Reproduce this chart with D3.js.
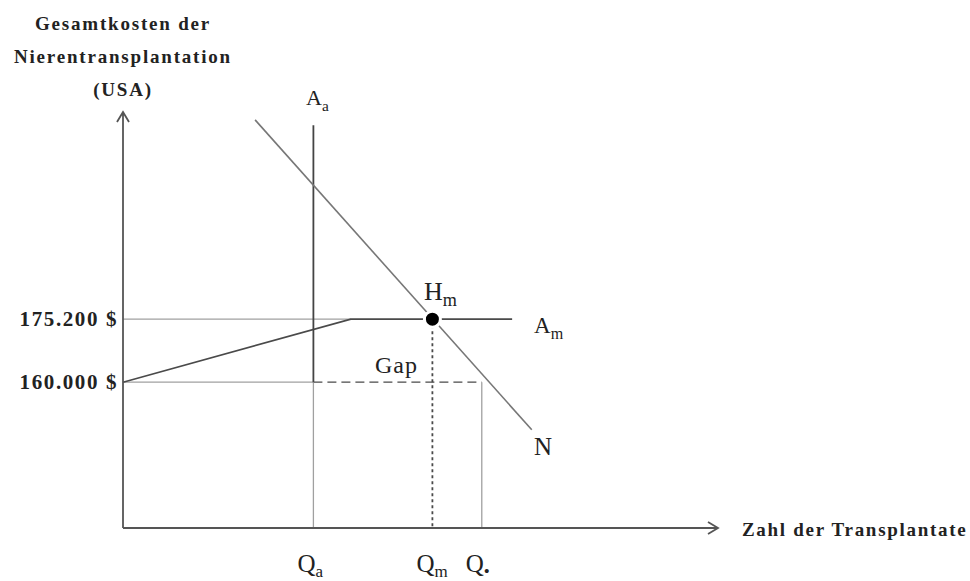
<!DOCTYPE html>
<html>
<head>
<meta charset="utf-8">
<script src="https://cdn.jsdelivr.net/npm/d3@7"></script>
<style>
  body { margin: 0; background: #fff; }
  text { font-family: "Liberation Serif", "DejaVu Serif", serif; fill: #222; }
</style>
</head>
<body>
<div id="chart"></div>
<script>
// cost levels (y) and quantities (x, arbitrary units)
var costTicks = [160000, 175200];
var quantities = [
  { name: "Q", sub: "a", q: 32 },
  { name: "Q", sub: "m", q: 52 },
  { name: "Q", sub: "•", q: 60.3 }
];
// supply with kink: rises from 160.000 $ to 175.200 $, then flat (A_m)
var supplyAm = [
  { q: 0, c: 160000 },
  { q: 38.3, c: 175200 },
  { q: 65.4, c: 175200 }
];
// demand N
var demandN = [
  { q: 22.2, c: 223300 },
  { q: 68.7, c: 148500 }
];
// vertical A_a at Q_a
var supplyAa = [
  { q: 32, c: 222000 },
  { q: 32, c: 160000 }
];
var equilibrium = { q: 52, c: 175200 };

var width = 970, height = 581;
var x0 = 123, x1 = 718, y0 = 528, y1 = 112;

var svg = d3.select("#chart")
  .append("svg")
  .attr("width", width)
  .attr("height", height);

var x = d3.scaleLinear().domain([0, 100]).range([x0, x1]);
var y = d3.scaleLinear().domain([124800, 225200]).range([y0, y1]);

var de = d3.formatLocale({ decimal: ",", thousands: ".", grouping: [3], currency: ["", " $"] });
var fmt = de.format("$,");

var line = d3.line()
  .x(function (d) { return x(d.q); })
  .y(function (d) { return y(d.c); });

var thin = "#a0a0a0", dark = "#4a4a4a";

// guide lines to the y axis
svg.append("line")
  .attr("x1", x(0)).attr("x2", x(38.3))
  .attr("y1", y(175200)).attr("y2", y(175200))
  .attr("stroke", thin).attr("stroke-width", 1.3);
svg.append("line")
  .attr("x1", x(0)).attr("x2", x(quantities[0].q))
  .attr("y1", y(160000)).attr("y2", y(160000))
  .attr("stroke", thin).attr("stroke-width", 1.3);

// Gap (dashed)
svg.append("line")
  .attr("x1", x(quantities[0].q)).attr("x2", x(quantities[2].q))
  .attr("y1", y(160000)).attr("y2", y(160000))
  .attr("stroke", dark).attr("stroke-width", 1.4)
  .attr("stroke-dasharray", "9,5");

// verticals down to x axis
svg.append("line")
  .attr("x1", x(quantities[0].q)).attr("x2", x(quantities[0].q))
  .attr("y1", y(160000)).attr("y2", y0)
  .attr("stroke", thin).attr("stroke-width", 1.3);
svg.append("line")
  .attr("x1", x(quantities[1].q)).attr("x2", x(quantities[1].q))
  .attr("y1", y(equilibrium.c)).attr("y2", y0)
  .attr("stroke", dark).attr("stroke-width", 1.8)
  .attr("stroke-dasharray", "3,3");
svg.append("line")
  .attr("x1", x(quantities[2].q)).attr("x2", x(quantities[2].q))
  .attr("y1", y(160000)).attr("y2", y0)
  .attr("stroke", thin).attr("stroke-width", 1.3);

// supply A_m
svg.append("path")
  .datum(supplyAm)
  .attr("fill", "none")
  .attr("stroke", dark)
  .attr("stroke-width", 1.6)
  .attr("d", line);

// A_a
svg.append("path")
  .datum(supplyAa)
  .attr("fill", "none")
  .attr("stroke", "#444")
  .attr("stroke-width", 1.8)
  .attr("d", line);

// demand N
svg.append("path")
  .datum(demandN)
  .attr("fill", "none")
  .attr("stroke", "#777")
  .attr("stroke-width", 1.6)
  .attr("d", line);

// axes with open arrow heads
svg.append("path")
  .attr("d", "M" + x0 + "," + y0 + "V" + y1 + "M" + (x0 - 6) + "," + (y1 + 10) + "L" + x0 + "," + y1 + "L" + (x0 + 6) + "," + (y1 + 10))
  .attr("fill", "none").attr("stroke", "#555").attr("stroke-width", 1.8);
svg.append("path")
  .attr("d", "M" + x0 + "," + y0 + "H" + x1 + "M" + (x1 - 10) + "," + (y0 - 6) + "L" + x1 + "," + y0 + "L" + (x1 - 10) + "," + (y0 + 6))
  .attr("fill", "none").attr("stroke", "#555").attr("stroke-width", 1.8);

// y tick labels
var yAxis = svg.append("g")
  .attr("transform", "translate(" + x0 + ",0)")
  .call(d3.axisLeft(y).tickValues(costTicks).tickSize(0).tickPadding(5).tickFormat(fmt));
yAxis.select(".domain").remove();
yAxis.selectAll("text")
  .style("font-family", "'Liberation Serif', serif")
  .style("font-size", "21px")
  .style("letter-spacing", "1.6px")
  .style("font-weight", "bold")
  .attr("fill", "#333");

// x labels
var ql = svg.selectAll(".ql")
  .data(quantities)
  .enter()
  .append("text")
  .attr("class", "ql")
  .attr("x", function (d) { return x(d.q) - 16; })
  .attr("y", 572)
  .style("font-size", "25px");
ql.append("tspan").text(function (d) { return d.name; });
ql.append("tspan").attr("dy", 5).style("font-size", "17px").text(function (d) { return d.sub; });

// equilibrium point
svg.append("circle")
  .attr("cx", x(equilibrium.q))
  .attr("cy", y(equilibrium.c))
  .attr("r", 8)
  .attr("fill", "#000")
  .attr("stroke", "#fff")
  .attr("stroke-width", 3);

function subLabel(tx, ty, main, sub, size) {
  var t = svg.append("text").attr("x", tx).attr("y", ty).style("font-size", size + "px");
  t.append("tspan").text(main);
  t.append("tspan").attr("dy", 6).style("font-size", (size * 0.7) + "px").text(sub);
  return t;
}
subLabel(424, 300, "H", "m", 26);
subLabel(534, 333, "A", "m", 23);
subLabel(306, 105, "A", "a", 22);

svg.append("text").attr("x", 375).attr("y", 373).style("font-size", "24px").style("letter-spacing", "1px").text("Gap");
svg.append("text").attr("x", 534).attr("y", 455).style("font-size", "25px").text("N");

// axis titles
var yt = svg.append("text")
  .attr("text-anchor", "middle")
  .style("font-size", "19px")
  .style("font-weight", "bold")
  .style("letter-spacing", "1.8px")
  .attr("fill", "#333");
yt.append("tspan").attr("x", 123).attr("y", 30).text("Gesamtkosten der");
yt.append("tspan").attr("x", 123).attr("y", 63).text("Nierentransplantation");
yt.append("tspan").attr("x", 123).attr("y", 96).text("(USA)");

svg.append("text")
  .attr("x", 742).attr("y", 536)
  .style("font-size", "19px")
  .style("font-weight", "bold")
  .style("letter-spacing", "1.7px")
  .attr("fill", "#333")
  .text("Zahl der Transplantate");
</script>
</body>
</html>
